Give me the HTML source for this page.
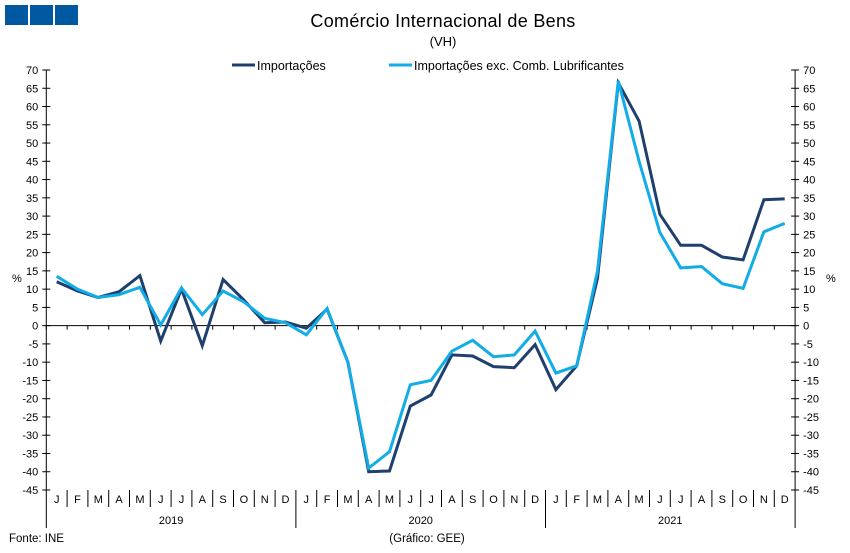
<!DOCTYPE html>
<html><head><meta charset="utf-8"><style>
body{margin:0;background:#fff;}
svg{display:block;font-family:"Liberation Sans",sans-serif;}
</style></head><body>
<svg id="chart" width="850" height="553" viewBox="0 0 850 553">
<rect x="5" y="5" width="23" height="20" fill="#0059a0"/>
<rect x="30" y="5" width="23" height="20" fill="#0059a0"/>
<rect x="55" y="5" width="23" height="20" fill="#0059a0"/>
<text x="443" y="27" font-size="18" text-anchor="middle" fill="#000" letter-spacing="0.3">Comércio Internacional de Bens</text>
<text x="443" y="46" font-size="13" text-anchor="middle" fill="#000">(VH)</text>
<g>
<g>
<line x1="232" y1="65" x2="255" y2="65" stroke="#1f3f6e" stroke-width="3"/>
<text x="257" y="70" font-size="12.5" fill="#000">Importações</text></g>
<g>
<line x1="389" y1="65" x2="412" y2="65" stroke="#12ade6" stroke-width="3"/>
<text x="414" y="70" font-size="12.5" fill="#000">Importações exc. Comb. Lubrificantes</text></g>
</g>
<g id="axes"></g>
<g id="series"></g>
<text x="9" y="542" font-size="11.5" fill="#000">Fonte: INE</text>
<text x="427" y="542" font-size="11.5" text-anchor="middle" fill="#000">(Gráfico: GEE)</text>
</svg>
<script>
const months = ["J","F","M","A","M","J","J","A","S","O","N","D","J","F","M","A","M","J","J","A","S","O","N","D","J","F","M","A","M","J","J","A","S","O","N","D"];
const years = ["2019","2020","2021"];
const yTicks = [70,65,60,55,50,45,40,35,30,25,20,15,10,5,0,-5,-10,-15,-20,-25,-30,-35,-40,-45];
const importacoes = [12,9.5,7.7,9.3,13.7,-4.2,10,-5.5,12.6,7,0.8,1,-0.7,4.5,-10,-40,-39.8,-22,-19,-8,-8.3,-11.2,-11.5,-5.2,-17.5,-11,13,66.5,56,30.5,22,22,18.8,18,34.5,34.7];
const importacoesExc = [13.5,10,7.7,8.5,10.5,0.2,10.3,3,9.5,6.5,2,0.8,-2.5,4.7,-10,-39,-34.5,-16.2,-15,-7,-4,-8.5,-8,-1.5,-13,-11,15,67,45,25.5,15.8,16.2,11.5,10.2,25.7,28];
const NS="http://www.w3.org/2000/svg";
const X0=46.3, BW=20.8, YTOP=70, YBOT=490, VMAX=70, VMIN=-45;
function xPos(i){return X0+BW*(i+0.5);}
function yPos(v){return YTOP+(VMAX-v)/(VMAX-VMIN)*(YBOT-YTOP);}
function mk(tag,attrs,parent){const e=document.createElementNS(NS,tag);for(const k in attrs)e.setAttribute(k,attrs[k]);parent.appendChild(e);return e;}
const axes=document.getElementById('axes');
const XR=X0+BW*months.length;
const la=mk('line',{x1:X0,y1:YTOP,x2:X0,y2:528,stroke:'#000','stroke-width':1},axes);


const ra=mk('line',{x1:XR,y1:YTOP,x2:XR,y2:528,stroke:'#000','stroke-width':1},axes);


yTicks.forEach(v=>{
  const y=yPos(v);
  mk('line',{x1:X0-4,y1:y,x2:X0+4,y2:y,stroke:'#000'},axes);
  mk('line',{x1:XR-4,y1:y,x2:XR+4,y2:y,stroke:'#000'},axes);
  const t=mk('text',{x:X0-8,y:y+4,'font-size':11,'text-anchor':'end',fill:'#000'},axes);t.textContent=v;
  
  
  const t2=mk('text',{x:XR+8,y:y+4,'font-size':11,'text-anchor':'start',fill:'#000'},axes);t2.textContent=v;
  
  
});
const pl=mk('text',{x:12,y:282,'font-size':11,fill:'#000'},axes);pl.textContent='%';


const pr=mk('text',{x:826,y:282,'font-size':11,fill:'#000'},axes);pr.textContent='%';


const zl=mk('line',{x1:X0,y1:yPos(0),x2:XR,y2:yPos(0),stroke:'#000'},axes);


months.forEach((m,i)=>{
  const xb=X0+BW*i;
  mk('line',{x1:xb,y1:yPos(0),x2:xb,y2:yPos(0)+4,stroke:'#000'},axes);
  if(i>0) mk('line',{x1:xb,y1:490,x2:xb,y2:(i%12===0)?528:507,stroke:'#000'},axes);
  const t=mk('text',{x:xPos(i),y:503,'font-size':11,'text-anchor':'middle',fill:'#000'},axes);t.textContent=m;
  
  
});
years.forEach((yr,j)=>{
  const t=mk('text',{x:X0+BW*(12*j+6),y:524,'font-size':11,'text-anchor':'middle',fill:'#000'},axes);t.textContent=yr;
  
  
});
const series=document.getElementById('series');
function drawLine(vals,color,name){
  const d=vals.map((v,i)=>(i?'L':'M')+xPos(i).toFixed(1)+' '+yPos(v).toFixed(1)).join(' ');
  const p=mk('path',{d:d,fill:'none',stroke:color,'stroke-width':3,'stroke-linejoin':'miter'},series);
  
  
}
drawLine(importacoes,'#1f3f6e','line-importacoes');
drawLine(importacoesExc,'#12ade6','line-importacoes-exc-comb');
</script>
</body></html>
